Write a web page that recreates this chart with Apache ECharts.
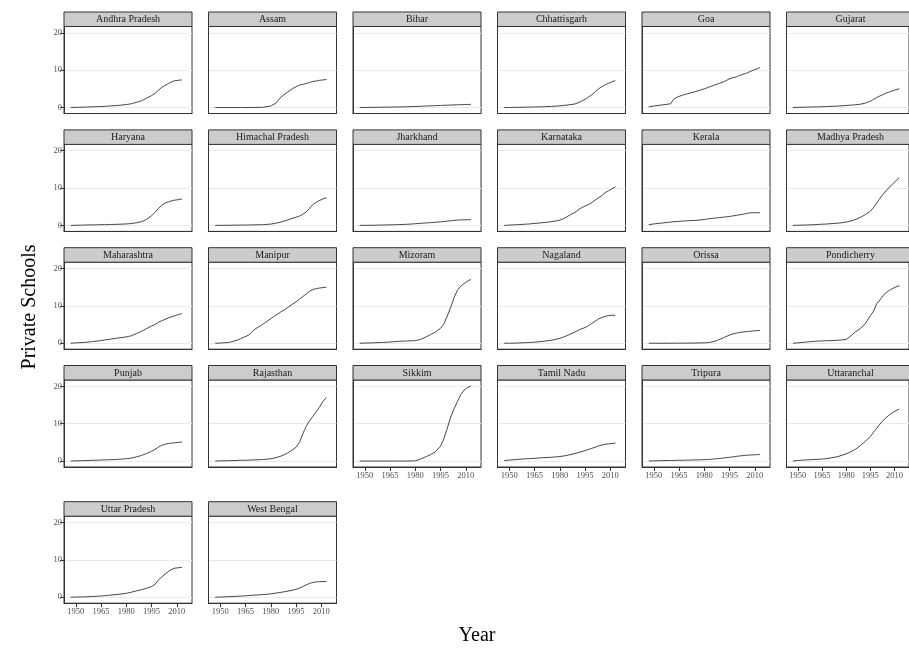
<!DOCTYPE html>
<html>
<head>
<meta charset="utf-8">
<script src="https://cdn.jsdelivr.net/npm/echarts@6/dist/echarts.min.js"></script>
<style>
html,body{margin:0;padding:0;background:#fff;}
#chart{width:909px;height:650px;}
</style>
</head>
<body>
<div id="chart"></div>
<script>
const years = [1947,1950,1955,1960,1962,1964,1967,1970,1975,1980,1983,1986,1989,1992,1995,1997,1999,2001,2003,2005,2007,2009,2011,2013];
const xTickLabels = [1950,1965,1980,1995,2010];
const yTickLabels = [0,10,20];
const stateNames = ['Andhra Pradesh','Assam','Bihar','Chhattisgarh','Goa','Gujarat',
  'Haryana','Himachal Pradesh','Jharkhand','Karnataka','Kerala','Madhya Pradesh',
  'Maharashtra','Manipur','Mizoram','Nagaland','Orissa','Pondicherry',
  'Punjab','Rajasthan','Sikkim','Tamil Nadu','Tripura','Uttaranchal',
  'Uttar Pradesh','West Bengal'];

const andhraPradesh = [0,0.05,0.1,0.2,0.22,0.25,0.3,0.4,0.55,0.8,1.0,1.4,1.8,2.5,3.2,3.8,4.6,5.4,5.9,6.4,6.9,7.2,7.3,7.4];
const assam = [0,0,0,0,0,0,0,0.02,0.05,0.4,1.2,2.8,3.8,4.8,5.6,6.0,6.2,6.4,6.7,7.0,7.1,7.3,7.4,7.5];
const bihar = [0,0.02,0.05,0.08,0.1,0.11,0.13,0.15,0.2,0.28,0.33,0.4,0.45,0.5,0.55,0.6,0.63,0.66,0.7,0.73,0.76,0.8,0.82,0.85];
const chhattisgarh = [0,0.02,0.05,0.1,0.12,0.14,0.17,0.2,0.3,0.45,0.6,0.75,0.95,1.5,2.2,2.8,3.4,4.2,5.0,5.6,6.1,6.5,6.9,7.2];
const goa = [0.2,0.4,0.7,1.0,2.3,2.8,3.3,3.7,4.3,5.0,5.5,6.0,6.5,7.0,7.7,8.0,8.2,8.6,8.9,9.2,9.6,10.0,10.3,10.7];
const gujarat = [0,0.05,0.1,0.15,0.17,0.2,0.25,0.3,0.4,0.55,0.65,0.75,0.9,1.2,1.7,2.2,2.7,3.1,3.5,3.9,4.2,4.5,4.8,5.0];
const haryana = [0,0.05,0.1,0.15,0.15,0.2,0.2,0.25,0.3,0.4,0.5,0.7,1.0,1.6,2.6,3.5,4.5,5.4,6.0,6.3,6.6,6.8,6.9,7.1];
const himachalPradesh = [0,0.02,0.05,0.08,0.1,0.1,0.12,0.15,0.2,0.35,0.6,0.9,1.3,1.8,2.2,2.5,3.0,3.6,4.6,5.6,6.2,6.7,7.1,7.4];
const jharkhand = [0,0.02,0.05,0.1,0.12,0.14,0.18,0.22,0.3,0.45,0.55,0.65,0.75,0.85,0.95,1.05,1.15,1.25,1.35,1.42,1.48,1.5,1.52,1.55];
const karnataka = [0,0.1,0.2,0.35,0.4,0.5,0.6,0.75,1.0,1.4,2.0,2.8,3.5,4.5,5.2,5.6,6.1,6.8,7.4,8.0,8.8,9.3,9.8,10.3];
const kerala = [0.2,0.4,0.65,0.9,1.0,1.05,1.15,1.25,1.35,1.6,1.8,1.95,2.1,2.25,2.4,2.55,2.7,2.85,3.0,3.2,3.35,3.4,3.4,3.4];
const madhyaPradesh = [0,0.05,0.1,0.2,0.25,0.3,0.35,0.45,0.6,0.9,1.2,1.6,2.2,2.9,3.8,4.8,6.0,7.3,8.4,9.4,10.3,11.2,12.0,12.8];
const maharashtra = [0,0.1,0.2,0.45,0.55,0.65,0.85,1.05,1.4,1.7,2.0,2.6,3.2,3.9,4.6,5.0,5.6,6.0,6.4,6.8,7.1,7.4,7.7,7.9];
const manipur = [0,0.05,0.2,0.8,1.2,1.6,2.2,3.6,5.0,6.6,7.5,8.4,9.2,10.2,11.1,11.8,12.5,13.2,13.9,14.4,14.6,14.8,14.9,15.0];
const mizoram = [0,0.05,0.1,0.2,0.25,0.3,0.4,0.5,0.6,0.7,1.0,1.6,2.3,3.0,4.0,5.2,7.3,9.6,12.2,14.2,15.3,16.0,16.6,17.1];
const nagaland = [0,0,0.05,0.15,0.2,0.25,0.35,0.5,0.8,1.3,1.8,2.4,3.0,3.7,4.2,4.7,5.3,5.9,6.5,6.9,7.2,7.4,7.5,7.5];
const orissa = [0,0,0,0.01,0.01,0.02,0.02,0.03,0.05,0.1,0.2,0.5,1.0,1.6,2.2,2.5,2.7,2.9,3.0,3.1,3.2,3.3,3.35,3.4];
const pondicherry = [0,0.1,0.3,0.5,0.55,0.6,0.65,0.7,0.8,1.0,2.0,3.1,4.0,5.3,7.4,8.6,10.6,11.6,12.8,13.6,14.2,14.7,15.1,15.4];
const punjab = [0,0.05,0.1,0.2,0.2,0.25,0.3,0.35,0.45,0.6,0.8,1.1,1.5,2.0,2.6,3.1,3.7,4.2,4.5,4.7,4.8,4.9,5.0,5.1];
const rajasthan = [0,0.05,0.1,0.15,0.2,0.2,0.25,0.3,0.4,0.6,0.9,1.3,1.9,2.7,3.7,5.0,7.3,9.3,10.8,12.0,13.2,14.5,16.0,17.0];
const sikkim = [0,0,0,0,0,0,0,0,0,0.05,0.5,1.1,1.7,2.5,4.0,6.0,8.8,11.8,14.0,15.9,17.8,19.0,19.7,20.1];
const tamilNadu = [0.1,0.25,0.45,0.6,0.65,0.7,0.8,0.9,1.0,1.2,1.4,1.7,2.0,2.4,2.8,3.1,3.4,3.7,4.0,4.3,4.5,4.6,4.7,4.8];
const tripura = [0,0.05,0.1,0.15,0.15,0.2,0.2,0.25,0.3,0.35,0.45,0.55,0.7,0.85,1.0,1.1,1.25,1.35,1.45,1.55,1.6,1.65,1.7,1.75];
const uttaranchal = [0,0.15,0.3,0.4,0.45,0.5,0.6,0.8,1.2,1.9,2.5,3.2,4.2,5.3,6.6,7.7,8.8,9.9,10.9,11.7,12.4,13.0,13.5,13.9];
const uttarPradesh = [0,0.05,0.1,0.2,0.25,0.3,0.4,0.55,0.75,1.05,1.35,1.7,2.0,2.4,2.9,3.4,4.6,5.4,6.2,6.9,7.5,7.8,7.9,8.0];
const westBengal = [0,0.05,0.15,0.25,0.3,0.35,0.45,0.55,0.7,0.9,1.1,1.3,1.55,1.8,2.1,2.45,2.85,3.3,3.7,3.95,4.1,4.15,4.2,4.2];

const stateValues = [andhraPradesh, assam, bihar, chhattisgarh, goa, gujarat,
  haryana, himachalPradesh, jharkhand, karnataka, kerala, madhyaPradesh,
  maharashtra, manipur, mizoram, nagaland, orissa, pondicherry,
  punjab, rajasthan, sikkim, tamilNadu, tripura, uttaranchal,
  uttarPradesh, westBengal];

const FONT = '"Liberation Serif", "DejaVu Serif", serif';
const colLeft = c => 64 + 144.5 * c;
const stripTops = [12, 129.9, 247.7, 365.5, 501.7];
const PW = 128, PH = 87, SH = 14.5;

const grids = [], xAxes = [], yAxes = [], series = [], graphics = [];
stateNames.forEach((name, i) => {
  const row = Math.floor(i / 6), col = i % 6;
  const left = colLeft(col), stripTop = stripTops[row];
  const top = stripTop + SH;
  const showX = i >= 20;
  const showY = col === 0;
  grids.push({left: left, top: top, width: PW, height: PH, show: true,
    borderColor: '#333', borderWidth: 1, backgroundColor: '#fff', containLabel: false});
  xAxes.push({type: 'value', gridIndex: i, min: 1943, max: 2019, position: 'bottom',
    axisLine: {show: true, onZero: false, lineStyle: {color: '#333', width: 1}},
    axisTick: {show: showX, inside: false, length: 4, lineStyle: {color: '#333', width: 1}, customValues: xTickLabels},
    axisLabel: {show: showX, customValues: xTickLabels, formatter: v => String(v),
      fontFamily: FONT, fontSize: 8.5, color: '#4d4d4d', margin: 4},
    splitLine: {show: false}});
  yAxes.push({type: 'value', gridIndex: i, min: -1.6, max: 21.7, position: 'left',
    axisLine: {show: true, onZero: false, lineStyle: {color: '#333', width: 1}},
    axisTick: {show: showY, inside: false, length: 4, lineStyle: {color: '#333', width: 1}, customValues: yTickLabels},
    axisLabel: {show: showY, customValues: yTickLabels, formatter: v => String(v),
      fontFamily: FONT, fontSize: 8.5, color: '#4d4d4d', margin: 2},
    splitLine: {show: true, lineStyle: {color: '#ebebeb', width: 1}}});
  series.push({type: 'line', name: name, xAxisIndex: i, yAxisIndex: i,
    data: years.map((y, k) => [y, stateValues[i][k]]),
    showSymbol: false, symbol: 'none', silent: true,
    lineStyle: {color: '#333', width: 0.9}});
  graphics.push({type: 'rect', shape: {x: left, y: stripTop, width: PW, height: SH},
    style: {fill: '#cccccc', stroke: '#333', lineWidth: 1}, silent: true});
  graphics.push({type: 'text', x: left + PW / 2, y: stripTop + SH / 2 + 0.5,
    style: {text: name, font: '10px ' + FONT, fill: '#1a1a1a', textAlign: 'center', textVerticalAlign: 'middle'}, silent: true});
});

graphics.push({type: 'text', x: 30, y: 307, rotation: Math.PI / 2,
  style: {text: 'Private Schools', font: '20px ' + FONT, fill: '#000', textAlign: 'center', textVerticalAlign: 'middle'}});
graphics.push({type: 'text', x: 477, y: 636,
  style: {text: 'Year', font: '20px ' + FONT, fill: '#000', textAlign: 'center', textVerticalAlign: 'middle'}});

const chart = echarts.init(document.getElementById('chart'), null, {renderer: 'canvas'});
chart.setOption({
  animation: false,
  backgroundColor: '#fff',
  grid: grids, xAxis: xAxes, yAxis: yAxes, series: series,
  graphic: graphics
});
</script>
</body>
</html>
